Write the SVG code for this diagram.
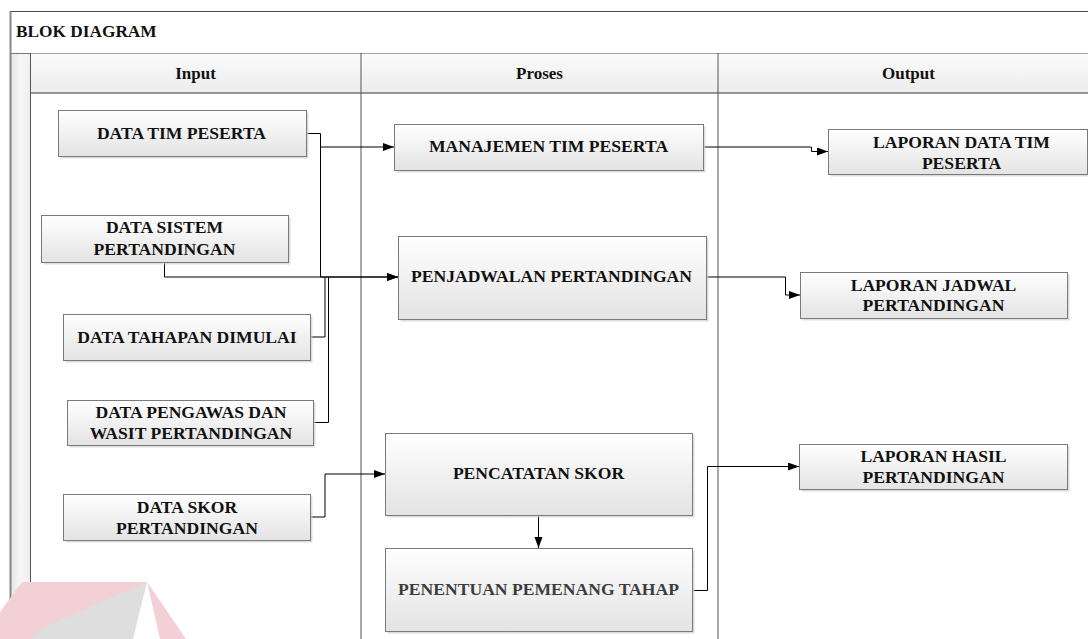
<svg xmlns="http://www.w3.org/2000/svg" width="1088" height="639" viewBox="0 0 1088 639">
  <defs>
    <linearGradient id="boxFill" x1="0" y1="0" x2="0" y2="1">
      <stop offset="0" stop-color="#ffffff"/>
      <stop offset="1" stop-color="#e3e3e3"/>
    </linearGradient>
    <linearGradient id="bandFill" x1="0" y1="0" x2="0" y2="1">
      <stop offset="0" stop-color="#fbfbfb"/>
      <stop offset="1" stop-color="#ececec"/>
    </linearGradient>
    <linearGradient id="stripFill" x1="0" y1="0" x2="1" y2="0">
      <stop offset="0" stop-color="#e4e4e4"/>
      <stop offset="0.5" stop-color="#f7f7f7"/>
      <stop offset="1" stop-color="#eeeeee"/>
    </linearGradient>
    <marker id="arrow" markerUnits="userSpaceOnUse" markerWidth="12" markerHeight="10" refX="11" refY="4" orient="auto">
      <path d="M0,0 L11,4 L0,8 Z" fill="#000"/>
    </marker>
  </defs>
  <style>
    .frame { fill: none; stroke: #4a4a4a; stroke-width: 1; }
    .lane { stroke: #555; stroke-width: 1; fill: none; }
    .box { fill: url(#boxFill); stroke: #7a7a7a; stroke-width: 1; }
    .shadow { fill: #cfcfcf; opacity: 0.7; }
    .title { font-weight: bold; font-size: 17.3px; fill: #111; }
    .label { font-weight: bold; font-size: 17.6px; fill: #111; text-anchor: middle; }
    .head { font-weight: bold; font-size: 17px; fill: #111; text-anchor: middle; }
    .wire { fill: none; stroke: #000; stroke-width: 1; }
  </style>

  <rect width="1088" height="639" fill="#ffffff"/>

  <!-- swimlane frame -->
  <g id="lanes" font-family="Liberation Serif, Tinos, DejaVu Serif, serif">
    <rect x="10.5" y="11.5" width="1090" height="42" fill="url(#bandFill)" class="frame"/>
    <text x="16" y="37" class="title">BLOK DIAGRAM</text>
    <rect x="10.5" y="53.5" width="20" height="600" fill="url(#stripFill)" stroke="#777" stroke-width="1"/>
    <line x1="10.5" y1="11" x2="10.5" y2="639" stroke="#888" stroke-width="2"/>
    <rect x="30.5" y="53.5" width="1070" height="39.5" fill="url(#bandFill)" stroke="none"/>
    <line x1="30" y1="93" x2="1088" y2="93" stroke="#777" stroke-width="1.6"/>
    <line x1="30.5" y1="53" x2="30.5" y2="639" class="lane"/>
    <line x1="361" y1="53" x2="361" y2="639" class="lane"/>
    <line x1="718" y1="53" x2="718" y2="639" class="lane"/>
    <text x="195.5" y="79" class="head">Input</text>
    <text x="539.5" y="79" class="head">Proses</text>
    <text x="908.5" y="79" class="head">Output</text>
  </g>

  <!-- faint emblem in the lower left corner -->
  <g id="emblem">
    <polygon points="22,582 147,582 186,639 0,639 0,612" fill="#f3d0d6"/>
    <polygon points="147,582 40,629 30,639 133,639" fill="#dedede"/>
    <polygon points="147,582 133,639 160,639" fill="#ffffff"/>
  </g>

  <!-- connectors -->
  <g id="connectors">
    <path class="wire" d="M306,133.5 H320.5 V147 H394" marker-end="url(#arrow)"/>
    <path class="wire" d="M320.5,147 V277 H398" marker-end="url(#arrow)"/>
    <path class="wire" d="M164.5,262 V277 H398" marker-end="url(#arrow)"/>
    <path class="wire" d="M310,337 H325 V277"/>
    <path class="wire" d="M313,422.5 H328.5 V277"/>
    <path class="wire" d="M310,517 H325 V474 H385" marker-end="url(#arrow)"/>
    <path class="wire" d="M538.5,515 V548" marker-end="url(#arrow)"/>
    <path class="wire" d="M692,590.5 H707.5 V466.5 H799" marker-end="url(#arrow)"/>
    <path class="wire" d="M703,147 H811.5 V151.5 H828" marker-end="url(#arrow)"/>
    <path class="wire" d="M706,277 H785.5 V295 H800" marker-end="url(#arrow)"/>
  </g>

  <g id="nodes" font-family="Liberation Serif, Tinos, DejaVu Serif, serif">
    <!-- input column -->
    <g id="data-tim-peserta">
      <rect class="shadow" x="60.5" y="112.5" width="248" height="46"/>
      <rect class="box" x="58.5" y="110.5" width="248" height="46"/>
      <text class="label" x="181.5" y="139">DATA TIM PESERTA</text>
    </g>
    <g id="data-sistem-pertandingan">
      <rect class="shadow" x="43.5" y="217.5" width="247" height="47"/>
      <rect class="box" x="41.5" y="215.5" width="247" height="47"/>
      <text class="label" x="164.5" y="233">DATA SISTEM</text>
      <text class="label" x="164.5" y="255">PERTANDINGAN</text>
    </g>
    <g id="data-tahapan-dimulai">
      <rect class="shadow" x="65.5" y="316.5" width="247" height="46"/>
      <rect class="box" x="63.5" y="314.5" width="247" height="46"/>
      <text class="label" x="187" y="342.5">DATA TAHAPAN DIMULAI</text>
    </g>
    <g id="data-pengawas-wasit">
      <rect class="shadow" x="69.5" y="402.5" width="246" height="45"/>
      <rect class="box" x="67.5" y="400.5" width="246" height="45"/>
      <text class="label" x="191" y="418">DATA PENGAWAS DAN</text>
      <text class="label" x="191" y="438.5">WASIT PERTANDINGAN</text>
    </g>
    <g id="data-skor-pertandingan">
      <rect class="shadow" x="65.5" y="496.5" width="247" height="46"/>
      <rect class="box" x="63.5" y="494.5" width="247" height="46"/>
      <text class="label" x="187" y="512.5">DATA SKOR</text>
      <text class="label" x="187" y="533.5">PERTANDINGAN</text>
    </g>

    <!-- process column -->
    <g id="manajemen-tim-peserta">
      <rect class="shadow" x="396.5" y="126.5" width="309" height="46"/>
      <rect class="box" x="394.5" y="124.5" width="309" height="46"/>
      <text class="label" x="548.5" y="152">MANAJEMEN TIM PESERTA</text>
    </g>
    <g id="penjadwalan-pertandingan">
      <rect class="shadow" x="400.5" y="238.5" width="308" height="83"/>
      <rect class="box" x="398.5" y="236.5" width="308" height="83"/>
      <text class="label" x="551.5" y="282">PENJADWALAN PERTANDINGAN</text>
    </g>
    <g id="pencatatan-skor">
      <rect class="shadow" x="387.5" y="435.5" width="307" height="82"/>
      <rect class="box" x="385.5" y="433.5" width="307" height="82"/>
      <text class="label" x="538.5" y="479">PENCATATAN SKOR</text>
    </g>
    <g id="penentuan-pemenang-tahap">
      <rect class="shadow" x="387.5" y="550.5" width="307" height="83"/>
      <rect class="box" x="385.5" y="548.5" width="307" height="83"/>
      <text class="label" x="538.5" y="594.5" style="fill:#3c3c3c">PENENTUAN PEMENANG TAHAP</text>
    </g>

    <!-- output column -->
    <g id="laporan-data-tim-peserta">
      <rect class="shadow" x="830.5" y="131.5" width="259" height="45"/>
      <rect class="box" x="828.5" y="129.5" width="259" height="45"/>
      <text class="label" x="961.5" y="148">LAPORAN DATA TIM</text>
      <text class="label" x="961.5" y="168.5">PESERTA</text>
    </g>
    <g id="laporan-jadwal-pertandingan">
      <rect class="shadow" x="802.5" y="274.5" width="267" height="46"/>
      <rect class="box" x="800.5" y="272.5" width="267" height="46"/>
      <text class="label" x="933.5" y="290.5">LAPORAN JADWAL</text>
      <text class="label" x="933.5" y="311">PERTANDINGAN</text>
    </g>
    <g id="laporan-hasil-pertandingan">
      <rect class="shadow" x="801.5" y="446.5" width="268" height="45"/>
      <rect class="box" x="799.5" y="444.5" width="268" height="45"/>
      <text class="label" x="933.5" y="462">LAPORAN HASIL</text>
      <text class="label" x="933.5" y="482.5">PERTANDINGAN</text>
    </g>
  </g>
</svg>
